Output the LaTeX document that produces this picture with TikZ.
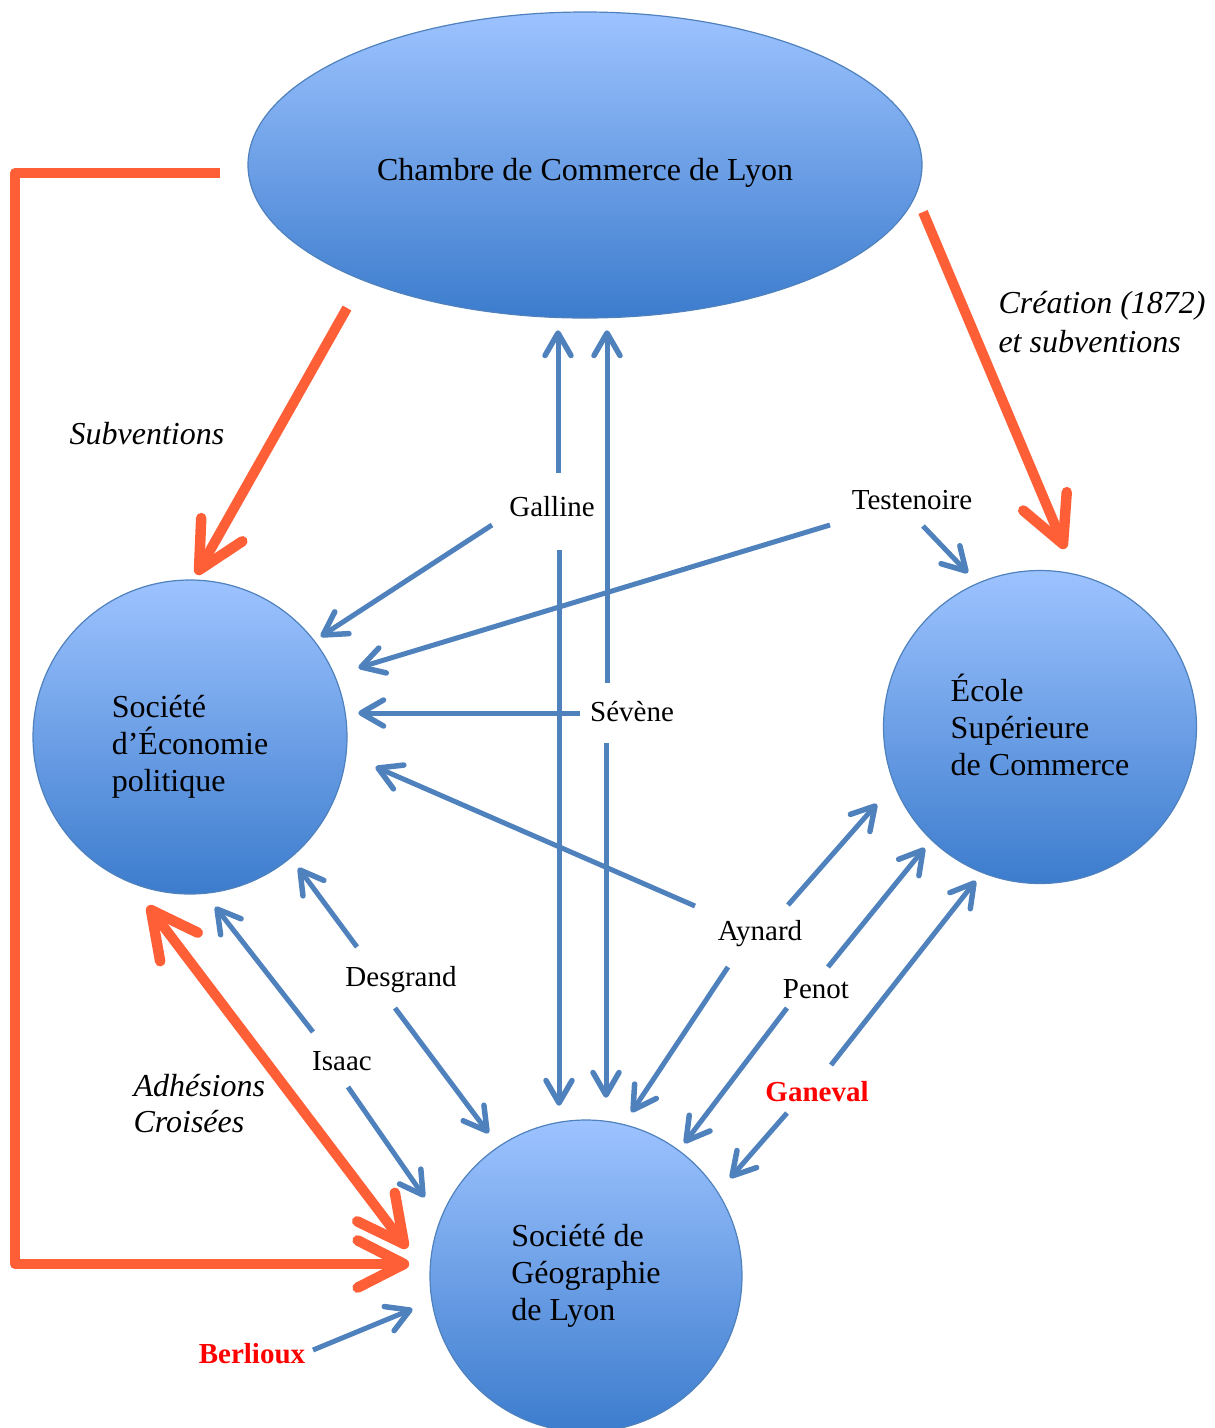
\documentclass[tikz,border=0pt]{standalone}
\usepackage{fontspec}
\setmainfont{Liberation Serif}
\usetikzlibrary{calc,shapes.geometric}
\definecolor{blueline}{RGB}{79,129,189}
\definecolor{orangeline}{RGB}{255,95,55}
\definecolor{topfill}{RGB}{157,195,255}
\definecolor{botfill}{RGB}{60,124,205}
\definecolor{redtxt}{RGB}{255,0,0}
\begin{document}
\begin{tikzpicture}[x=1pt,y=-1pt,
  inst/.style={draw=blueline, line width=1.2pt, top color=topfill, bottom color=botfill, inner sep=0pt},
  insttxt/.style={font=\fontsize{32}{37}\selectfont, align=left, inner sep=0pt},
  pers/.style={font=\fontsize{29}{34}\selectfont, anchor=base},
  rpers/.style={font=\fontsize{29}{34}\selectfont\bfseries, text=redtxt, anchor=base},
  lbl/.style={font=\fontsize{32}{39}\selectfont\itshape, align=left},
  bline/.style={draw=blueline, line width=5pt},
  bhead/.style={draw=blueline, line width=5.5pt, line cap=round, line join=round},
  oline/.style={draw=orangeline, line width=10pt, line join=round},
  ohead/.style={draw=orangeline, line width=10.5pt, line cap=round, line join=round},
]
\useasboundingbox (0,0) rectangle (1215,1428);

% institutions
\node[inst, ellipse, minimum width=674pt, minimum height=306pt] (ccl) at (585,165) {};
\node[inst, circle, minimum size=314pt] (sep) at (190,737) {};
\node[inst, circle, minimum size=313pt] (esc) at (1040,727) {};
\node[inst, circle, minimum size=312pt] (sgl) at (586,1276) {};
\node[insttxt] (ccl-t) at ([yshift=-8pt]ccl.center) {Chambre de Commerce de Lyon};
\node[insttxt] (sep-t) at ([yshift=-10pt]sep.center) {Société\\d’Économie\\politique};
\node[insttxt] (esc-t) at ([yshift=2pt]esc.center) {École\\Supérieure\\de Commerce};
\node[insttxt] (sgl-t) at (sgl.center) {Société de\\Géographie\\de Lyon};

% persons
\node[pers] (galline) at (552,516) {Galline};
\node[pers] (sevene) at (632,721) {Sévène};
\node[pers] (testenoire) at (912,509) {Testenoire};
\node[pers] (aynard) at (760,940) {Aynard};
\node[pers] (penot) at (816,998) {Penot};
\node[rpers] (ganeval) at (817,1101) {Ganeval};
\node[pers] (desgrand) at (401,986) {Desgrand};
\node[pers] (isaac) at (342,1070) {Isaac};
\node[rpers] (berlioux) at (252,1363) {Berlioux};

% italic labels
\node[lbl, anchor=base] (subv) at (147,444) {Subventions};
\node[lbl, anchor=west] (creat) at (995,322) {Création (1872)\\et subventions};
\node[lbl, anchor=west, font=\fontsize{32}{36}\selectfont\itshape] (adh) at (130,1104) {Adhésions\\Croisées};

% coordinates of connector ends
\coordinate (galU0) at (558,473); \coordinate (galU1) at (558,333);
\coordinate (galD0) at (559,550); \coordinate (galD1) at (559,1103);
\coordinate (galL0) at (492,525); \coordinate (galL1) at (323,635);
\coordinate (sevU0) at (607,683); \coordinate (sevU1) at (607,333);
\coordinate (sevD0) at (606,743); \coordinate (sevD1) at (606,1095);
\coordinate (sevL0) at (580,713); \coordinate (sevL1) at (361,713);
\coordinate (tesL0) at (830,525); \coordinate (tesL1) at (361,667);
\coordinate (tesR0) at (923,526); \coordinate (tesR1) at (966,571);
\coordinate (aynL0) at (695,906); \coordinate (aynL1) at (378,768);
\coordinate (aynR0) at (788,905); \coordinate (aynR1) at (875,806);
\coordinate (aynB0) at (728,967); \coordinate (aynB1) at (633,1110);
\coordinate (penR0) at (828,967); \coordinate (penR1) at (923,850);
\coordinate (penB0) at (787,1008); \coordinate (penB1) at (686,1141);
\coordinate (ganR0) at (831,1065); \coordinate (ganR1) at (974,883);
\coordinate (ganB0) at (787,1113); \coordinate (ganB1) at (732,1176);
\coordinate (desL0) at (357,947); \coordinate (desL1) at (300,870);
\coordinate (desB0) at (395,1008); \coordinate (desB1) at (487,1131);
\coordinate (isaL0) at (313,1032); \coordinate (isaL1) at (217,909);
\coordinate (isaB0) at (348,1087); \coordinate (isaB1) at (423,1195);
\coordinate (berB0) at (313,1350); \coordinate (berB1) at (410,1310);

\coordinate (oL0) at (220,173); \coordinate (oLa) at (15,173);
\coordinate (oLb) at (15,1264); \coordinate (oL1) at (404,1264);
\coordinate (oS0) at (347,308); \coordinate (oS1) at (199,570);
\coordinate (oC0) at (923,212); \coordinate (oC1) at (1063,544);
\coordinate (oA0) at (151,910); \coordinate (oA1) at (404,1244);

% blue connectors
\foreach \a in {galU,galD,galL,sevU,sevD,sevL,tesL,tesR,aynL,aynR,aynB,penR,penB,ganR,ganB,desL,desB,isaL,isaB,berB}{
  \draw[bline] (\a0) -- (\a1);
  \draw[bhead] ($(\a1)!26pt!30:(\a0)$) -- (\a1) -- ($(\a1)!26pt!-30:(\a0)$);
}

% orange connectors
\draw[oline] (oL0) -- (oLa) -- (oLb) -- (oL1);
\draw[ohead] ($(oL1)!52pt!27:(oLb)$) -- (oL1) -- ($(oL1)!52pt!-27:(oLb)$);
\draw[oline] (oS0) -- (oS1);
\draw[ohead] ($(oS1)!52pt!27:(oS0)$) -- (oS1) -- ($(oS1)!52pt!-27:(oS0)$);
\draw[oline] (oC0) -- (oC1);
\draw[ohead] ($(oC1)!52pt!27:(oC0)$) -- (oC1) -- ($(oC1)!52pt!-27:(oC0)$);
\draw[oline] (oA0) -- (oA1);
\draw[ohead] ($(oA1)!52pt!27:(oA0)$) -- (oA1) -- ($(oA1)!52pt!-27:(oA0)$);
\draw[ohead] ($(oA0)!52pt!27:(oA1)$) -- (oA0) -- ($(oA0)!52pt!-27:(oA1)$);
\end{tikzpicture}
\end{document}
